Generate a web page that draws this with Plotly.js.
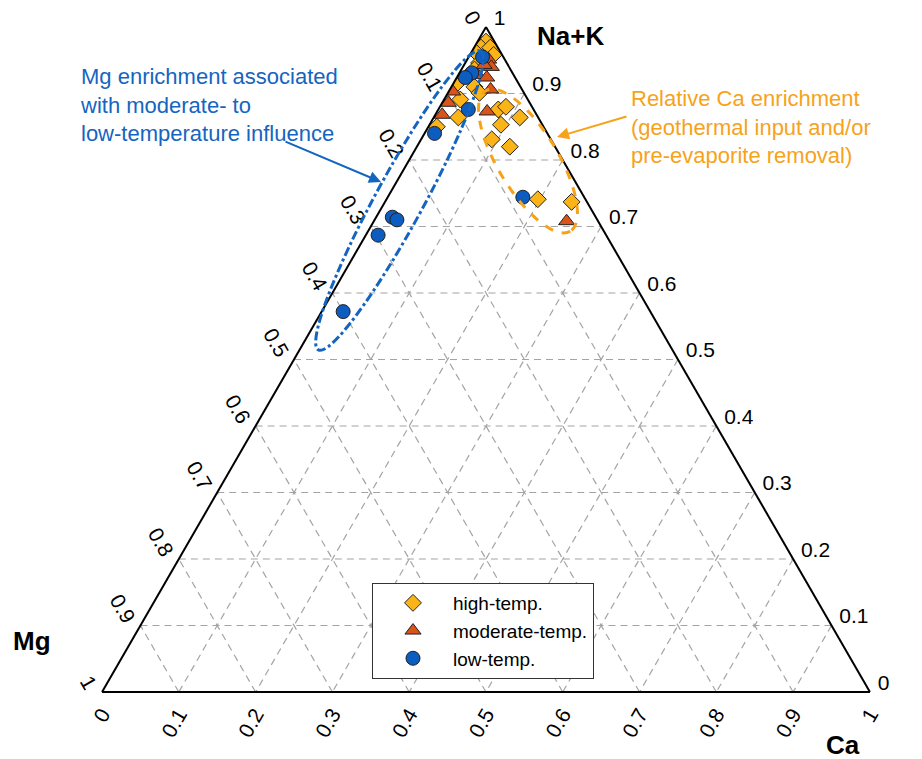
<!DOCTYPE html>
<html>
<head>
<meta charset="utf-8">
<script src="https://cdn.plot.ly/plotly-3.0.1.min.js"></script>
<style>html,body{margin:0;padding:0;background:#fff;}#chart{width:922px;height:759px;}</style>
</head>
<body>
<div id="chart"></div>
<script>
// ---- data (fractions of Na+K, Mg, Ca) ----
const seriesNames = ['high-temp.', 'moderate-temp.', 'low-temp.'];

const highNaK = [0.978,0.969,0.969,0.958,0.961,0.946,0.936,0.913,0.910,0.901,0.864,0.850,0.876,0.880,0.864,0.853,0.831,0.820,0.741,0.737,0.891];
const highMg  = [0.011,0.022,0.010,0.011,0.032,0.036,0.047,0.083,0.060,0.058,0.104,0.139,0.046,0.034,0.024,0.054,0.077,0.059,0.062,0.020,0.088];
const highCa  = [0.011,0.009,0.021,0.031,0.007,0.018,0.017,0.004,0.030,0.041,0.032,0.011,0.078,0.086,0.112,0.093,0.092,0.121,0.197,0.243,0.021];

const modNaK = [0.951,0.940,0.928,0.924,0.903,0.886,0.868,0.906,0.873,0.708,0.943];
const modMg  = [0.021,0.023,0.047,0.037,0.092,0.106,0.123,0.041,0.062,0.041,0.031];
const modCa  = [0.028,0.037,0.025,0.039,0.005,0.008,0.009,0.053,0.065,0.251,0.026];

const lowNaK = [0.955,0.931,0.924,0.876,0.840,0.714,0.710,0.687,0.572,0.744];
const lowMg  = [0.027,0.053,0.065,0.085,0.147,0.265,0.261,0.297,0.400,0.080];
const lowCa  = [0.018,0.016,0.011,0.039,0.013,0.021,0.029,0.016,0.028,0.176];

const tickVals   = [0,0.1,0.2,0.3,0.4,0.5,0.6,0.7,0.8,0.9,1];
const tickLabels = ['1','0.9','0.8','0.7','0.6','0.5','0.4','0.3','0.2','0.1','0'];

// ---- styling ----
const W = 922, H = 759;
const FONT = 'Liberation Sans, Arial, sans-serif';
const BLUE = '#1565c0';
const ORANGE = '#f7a21b';

function px(x){ return x / W; }
function py(y){ return 1 - y / H; }

function ellipsePath(cx, cy, a, b, angDeg){
  const t = angDeg * Math.PI / 180, k = 0.5523;
  const c = Math.cos(t), s = Math.sin(t);
  const P = (u, v) => { const X = cx + u*c - v*s, Y = cy + u*s + v*c; return px(X).toFixed(5) + ',' + py(Y).toFixed(5); };
  return 'M' + P(a,0) +
    ' C' + P(a, k*b) + ' ' + P(k*a, b) + ' ' + P(0, b) +
    ' C' + P(-k*a, b) + ' ' + P(-a, k*b) + ' ' + P(-a, 0) +
    ' C' + P(-a, -k*b) + ' ' + P(-k*a, -b) + ' ' + P(0, -b) +
    ' C' + P(k*a, -b) + ' ' + P(a, -k*b) + ' ' + P(a, 0) + ' Z';
}

const traces = [
  {type:'scatterternary', mode:'markers', name:seriesNames[0], a:highNaK, b:highMg, c:highCa,
   marker:{symbol:'diamond', size:13, color:'#fbb417', line:{color:'#222', width:1}}},
  {type:'scatterternary', mode:'markers', name:seriesNames[1], a:modNaK, b:modMg, c:modCa,
   marker:{symbol:'triangle-up', size:14, color:'#d9531a', line:{color:'#222', width:1}}},
  {type:'scatterternary', mode:'markers', name:seriesNames[2], a:lowNaK, b:lowMg, c:lowCa,
   marker:{symbol:'circle', size:14, color:'#0d5cbf', line:{color:'#222', width:1}}}
];

function axis(angle, len){
  return {
    title:{text:''}, min:0,
    tickmode:'array', tickvals:tickVals, ticktext:tickLabels,
    tickangle:angle, ticks:'outside', ticklen:len, tickcolor:'rgba(0,0,0,0)',
    tickfont:{family:FONT, size:21, color:'#000'},
    showline:true, linecolor:'#000', linewidth:2,
    showgrid:true, gridcolor:'#a4a4a4', gridwidth:1.2, griddash:'7px,5px'
  };
}

function title(txt, x, y){
  return {xref:'paper', yref:'paper', x:px(x), y:py(y), xanchor:'center', yanchor:'middle',
          text:'<b>' + txt + '</b>', showarrow:false, font:{family:FONT, size:26, color:'#000'}};
}

const layout = {
  width:W, height:H,
  margin:{l:0, r:0, t:0, b:0},
  paper_bgcolor:'#fff',
  showlegend:true,
  font:{family:FONT, color:'#000'},
  ternary:{
    sum:1,
    domain:{x:[0.0542, 1.0], y:[0.08827, 0.96443]},
    bgcolor:'#fff',
    aaxis:axis(60, 4),
    baxis:axis(-60, 0),
    caxis:axis(0, 8)
  },
  legend:{
    x:px(372), y:py(583), xanchor:'left', yanchor:'top',
    bgcolor:'#fff', bordercolor:'#333', borderwidth:1,
    font:{family:FONT, size:19, color:'#000'},
    itemwidth:70
  },
  shapes:[
    {type:'path', xref:'paper', yref:'paper', path:ellipsePath(399.5, 200.5, 170, 24, -61.5),
     line:{color:BLUE, width:3, dash:'dashdot'}},
    {type:'path', xref:'paper', yref:'paper', path:ellipsePath(528, 161, 82, 30, 59),
     line:{color:ORANGE, width:3, dash:'dash'}}
  ],
  annotations:[
    title('Na+K', 570, 36),
    title('Mg', 32, 641),
    title('Ca', 843, 745),
    {xref:'paper', yref:'paper', x:px(78), y:py(62), xanchor:'left', yanchor:'top', align:'left',
     text:'Mg enrichment associated<br>with moderate- to<br>low-temperature influence', showarrow:false,
     font:{family:FONT, size:22, color:BLUE}},
    {xref:'paper', yref:'paper', x:px(629), y:py(84), xanchor:'left', yanchor:'top', align:'left',
     text:'Relative Ca enrichment<br>(geothermal input and/or<br>pre-evaporite removal)', showarrow:false,
     font:{family:FONT, size:22, color:ORANGE}},
    {xref:'paper', yref:'paper', x:px(381), y:py(182), text:'', showarrow:true,
     ax:-97, ay:-41, arrowhead:2, arrowsize:1.2, arrowwidth:2, arrowcolor:BLUE},
    {xref:'paper', yref:'paper', x:px(557), y:py(137), text:'', showarrow:true,
     ax:71, ay:-21, arrowhead:2, arrowsize:1.2, arrowwidth:2, arrowcolor:ORANGE}
  ]
};

Plotly.newPlot('chart', traces, layout, {displayModeBar:false, staticPlot:true});
</script>
</body>
</html>
